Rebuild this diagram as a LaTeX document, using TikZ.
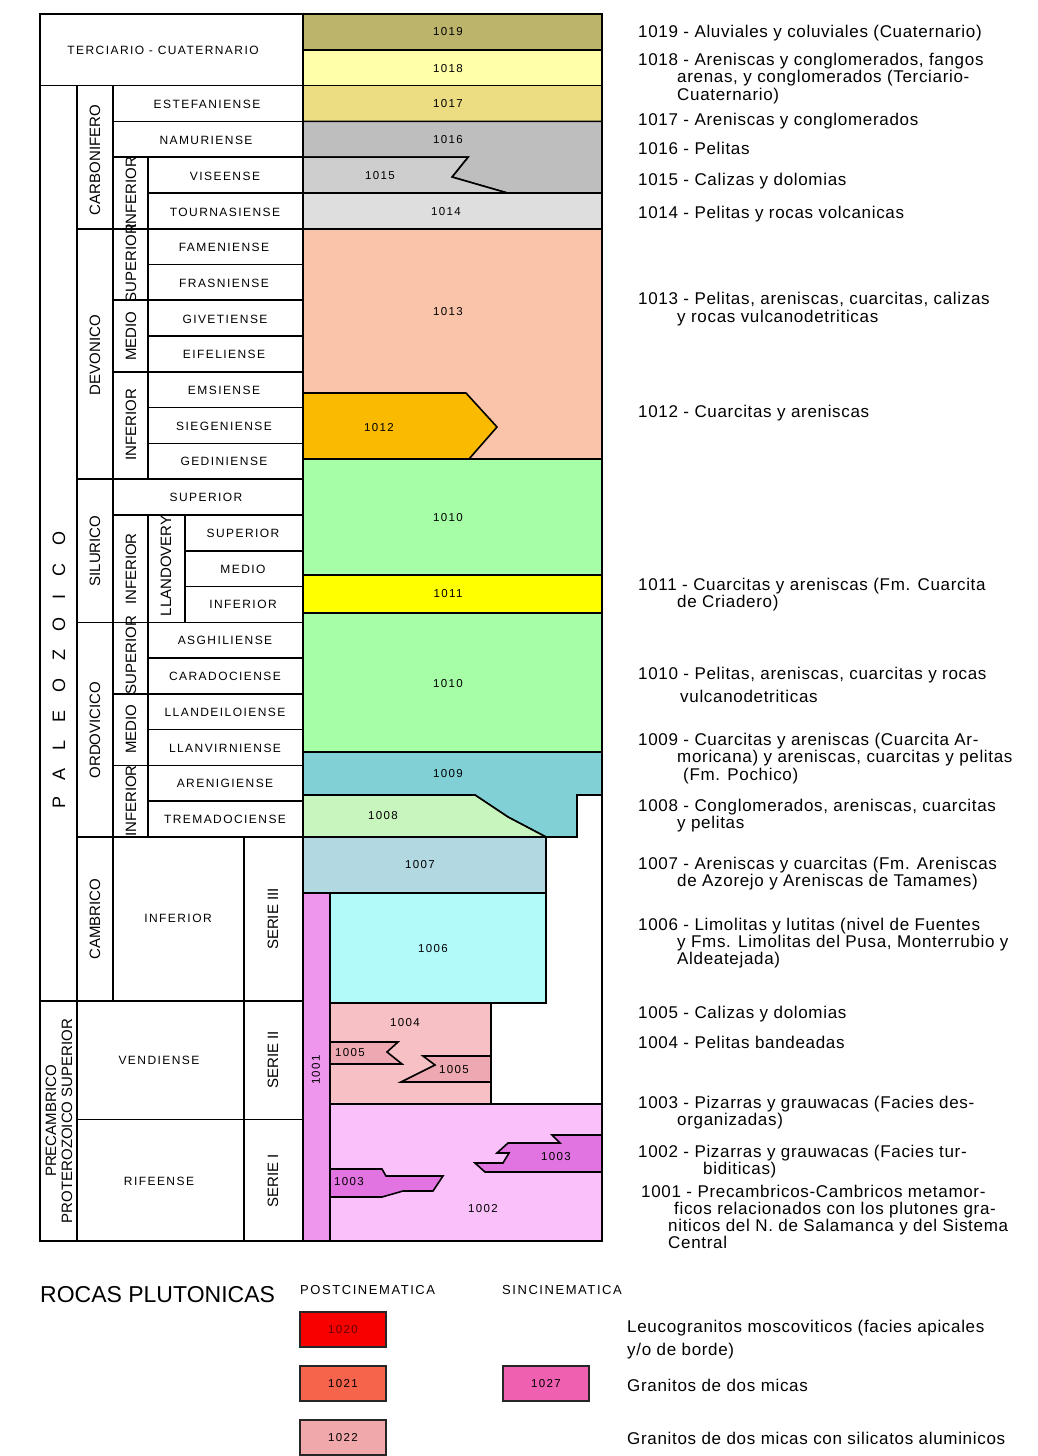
\documentclass[tikz,border=0pt]{standalone}
\usepackage{fontspec}
\setmainfont{Liberation Sans}
\newfontfamily\spacedfont[LetterSpace=12]{Liberation Sans}
\newfontfamily\widefont[LetterSpace=100]{Liberation Sans}
\newfontfamily\notefont[LetterSpace=4]{Liberation Sans}
\definecolor{c1019}{RGB}{189,180,108}
\definecolor{c1018}{RGB}{255,255,170}
\definecolor{c1017}{RGB}{236,220,130}
\definecolor{c1016}{RGB}{190,190,190}
\definecolor{c1015}{RGB}{206,206,206}
\definecolor{c1014}{RGB}{222,222,222}
\definecolor{c1013}{RGB}{250,196,170}
\definecolor{c1012}{RGB}{250,186,0}
\definecolor{c1010}{RGB}{166,255,166}
\definecolor{c1011}{RGB}{255,255,0}
\definecolor{c1009}{RGB}{128,208,214}
\definecolor{c1008}{RGB}{200,245,190}
\definecolor{c1007}{RGB}{178,216,226}
\definecolor{c1006}{RGB}{178,250,250}
\definecolor{c1005}{RGB}{238,168,178}
\definecolor{c1004}{RGB}{246,192,196}
\definecolor{c1003}{RGB}{226,116,226}
\definecolor{c1002}{RGB}{250,192,250}
\definecolor{c1001}{RGB}{238,150,238}
\definecolor{c1020}{RGB}{248,0,0}
\definecolor{c1021}{RGB}{246,100,76}
\definecolor{c1022}{RGB}{240,168,170}
\definecolor{c1027}{RGB}{240,96,176}
\begin{document}
\begin{tikzpicture}[x=1pt,y=-1pt,inner sep=0pt,minimum size=0mm,
  cell/.style={line width=1.6pt},
  stage/.style={font=\spacedfont\fontsize{12}{14}\selectfont},
  vert/.style={font=\fontsize{15}{16}\selectfont,rotate=90},
  num/.style={font=\spacedfont\fontsize{11.5}{13}\selectfont},
  note/.style={anchor=base west,font=\notefont\fontsize{17}{18}\selectfont},
  keybox/.style={line width=1.8pt,draw=black!85}]

\fill[white] (0,0) rectangle (1038,1456);
\useasboundingbox (0,0) rectangle (1038,1456);

% colour column
\filldraw[cell,fill=c1019] (303,14) rectangle (602,49.8);
\filldraw[cell,fill=c1018] (303,49.8) rectangle (602,85.6);
\filldraw[cell,fill=c1017] (303,85.6) rectangle (602,121.3);
\filldraw[cell,fill=c1016] (303,121.3) -- (602,121.3) -- (602,192.9) -- (507,192.9) -- (452,177) -- (468,157.1) -- (303,157.1) -- cycle;
\filldraw[cell,fill=c1015] (303,157.1) -- (468,157.1) -- (452,177) -- (507,192.9) -- (303,192.9) -- cycle;
\filldraw[cell,fill=c1014] (303,192.9) rectangle (602,228.7);
\filldraw[cell,fill=c1013] (303,228.7) rectangle (602,459);
\filldraw[cell,fill=c1012] (303,393) -- (466,393) -- (497,427) -- (469,459) -- (303,459) -- cycle;
\filldraw[cell,fill=c1010] (303,459) rectangle (602,575);
\filldraw[cell,fill=c1011] (303,575) rectangle (602,613);
\filldraw[cell,fill=c1010] (303,613) rectangle (602,752);
\filldraw[cell,fill=c1009] (303,752) -- (602,752) -- (602,795) -- (577,795) -- (577,837) -- (546,837) -- (508,817) -- (475,795) -- (303,795) -- cycle;
\filldraw[cell,fill=c1008] (303,795) -- (475,795) -- (508,817) -- (546,837) -- (303,837) -- cycle;
\filldraw[cell,fill=c1007] (303,837) rectangle (546,893);
\filldraw[cell,fill=c1006] (330,893) rectangle (546,1003);
\filldraw[cell,fill=c1004] (330,1003) rectangle (491,1104);
\filldraw[cell,fill=c1005] (330,1042) -- (398,1042) -- (387,1052) -- (402,1064) -- (330,1064) -- cycle;
\filldraw[cell,fill=c1005] (423,1056) -- (491,1056) -- (491,1082) -- (401,1082) -- (435,1065) -- cycle;
\filldraw[cell,fill=c1002] (330,1104) rectangle (602,1241);
\filldraw[cell,fill=c1003] (330,1169) -- (382,1169) -- (386,1176) -- (443,1176) -- (433,1191) -- (403,1191) -- (382,1197) -- (330,1197) -- cycle;
\filldraw[cell,fill=c1003] (602,1135) -- (552,1135) -- (560,1143) -- (508,1143) -- (497,1153) -- (509,1153) -- (503,1163) -- (475,1163) -- (485,1172) -- (602,1172) -- cycle;
\filldraw[cell,fill=c1001] (303,893) rectangle (330,1241);
\draw[cell] (303,14) rectangle (602,1241);

\node[num] (u1019) at (448,32) {1019};
\node[num] (u1018) at (448,69) {1018};
\node[num] (u1017) at (448,104) {1017};
\node[num] (u1016) at (448,140) {1016};
\node[num] (u1015) at (380,176) {1015};
\node[num] (u1014) at (446,212) {1014};
\node[num] (u1013) at (448,312) {1013};
\node[num] (u1012) at (379,428) {1012};
\node[num] (u1010a) at (448,518) {1010};
\node[num] (u1011) at (448,594) {1011};
\node[num] (u1010b) at (448,684) {1010};
\node[num] (u1009) at (448,774) {1009};
\node[num] (u1008) at (383,816) {1008};
\node[num] (u1007) at (420,865) {1007};
\node[num] (u1006) at (433,949) {1006};
\node[num] (u1004) at (405,1023) {1004};
\node[num] (u1005a) at (350,1053) {1005};
\node[num] (u1005b) at (454,1070) {1005};
\node[num,rotate=90] (u1001) at (316,1070) {1001};
\node[num] (u1003a) at (349,1182) {1003};
\node[num] (u1003b) at (556,1157) {1003};
\node[num] (u1002) at (483,1209) {1002};

% table
\draw[cell] (40,14) rectangle (303,85.6);
\draw[cell] (40,85.6) rectangle (77,1000.7);
\draw[cell] (77,85.6) rectangle (113,228.7);
\draw[cell] (77,228.7) rectangle (113,479.1);
\draw[cell] (77,479.1) rectangle (113,622.3);
\draw[cell] (77,622.3) rectangle (113,836.9);
\draw[cell] (77,836.9) rectangle (113,1000.7);

\draw[cell] (113,157.1) rectangle (148,228.7);
\draw[cell] (113,228.7) rectangle (148,300.2);
\draw[cell] (113,300.2) rectangle (148,371.8);
\draw[cell] (113,371.8) rectangle (148,479.1);
\draw[cell] (113,514.9) rectangle (148,622.3);
\draw[cell] (148,514.9) rectangle (185,622.3);
\draw[cell] (113,622.3) rectangle (148,693.8);
\draw[cell] (113,693.8) rectangle (148,765.4);
\draw[cell] (113,765.4) rectangle (148,836.9);

\draw[cell] (113,85.6) rectangle (303,121.3);
\draw[cell] (113,121.3) rectangle (303,157.1);
\draw[cell] (148,157.1) rectangle (303,192.9);
\draw[cell] (148,192.9) rectangle (303,228.7);
\draw[cell] (148,228.7) rectangle (303,264.5);
\draw[cell] (148,264.5) rectangle (303,300.2);
\draw[cell] (148,300.2) rectangle (303,336.0);
\draw[cell] (148,336.0) rectangle (303,371.8);
\draw[cell] (148,371.8) rectangle (303,407.6);
\draw[cell] (148,407.6) rectangle (303,443.4);
\draw[cell] (148,443.4) rectangle (303,479.1);
\draw[cell] (113,479.1) rectangle (303,514.9);
\draw[cell] (185,514.9) rectangle (303,550.7);
\draw[cell] (185,550.7) rectangle (303,586.5);
\draw[cell] (185,586.5) rectangle (303,622.3);
\draw[cell] (148,622.3) rectangle (303,658.0);
\draw[cell] (148,658.0) rectangle (303,693.8);
\draw[cell] (148,693.8) rectangle (303,729.6);
\draw[cell] (148,729.6) rectangle (303,765.4);
\draw[cell] (148,765.4) rectangle (303,801.2);
\draw[cell] (148,801.2) rectangle (303,836.9);

\draw[cell] (113,836.9) rectangle (244,1000.7);
\draw[cell] (244,836.9) rectangle (303,1000.7);
\draw[cell] (40,1000.7) rectangle (77,1240.8);
\draw[cell] (77,1000.7) rectangle (244,1119.5);
\draw[cell] (77,1119.5) rectangle (244,1240.8);
\draw[cell] (244,1000.7) rectangle (303,1119.5);
\draw[cell] (244,1119.5) rectangle (303,1240.8);

\node[stage] (tercuat) at (163,50) {TERCIARIO - CUATERNARIO};
\node[stage] (estef) at (207,104) {ESTEFANIENSE};
\node[stage] (namur) at (206,140) {NAMURIENSE};
\node[stage] (visee) at (225,176) {VISEENSE};
\node[stage] (tourn) at (225,212) {TOURNASIENSE};
\node[stage] (famen) at (224,247) {FAMENIENSE};
\node[stage] (frasn) at (224,283) {FRASNIENSE};
\node[stage] (givet) at (225,319) {GIVETIENSE};
\node[stage] (eifel) at (224,354) {EIFELIENSE};
\node[stage] (emsie) at (224,390) {EMSIENSE};
\node[stage] (siege) at (224,426) {SIEGENIENSE};
\node[stage] (gedin) at (224,461) {GEDINIENSE};
\node[stage] (silsup) at (206,497) {SUPERIOR};
\node[stage] (llsup) at (243,533) {SUPERIOR};
\node[stage] (llmed) at (243,569) {MEDIO};
\node[stage] (llinf) at (243,604) {INFERIOR};
\node[stage] (asghi) at (225,640) {ASGHILIENSE};
\node[stage] (carad) at (225,676) {CARADOCIENSE};
\node[stage] (lland) at (225,712) {LLANDEILOIENSE};
\node[stage] (llanv) at (225,748) {LLANVIRNIENSE};
\node[stage] (areni) at (225,783) {ARENIGIENSE};
\node[stage] (trema) at (225,819) {TREMADOCIENSE};
\node[stage] (caminf) at (178,918) {INFERIOR};
\node[stage] (vendi) at (159,1060) {VENDIENSE};
\node[stage] (rifee) at (159,1181) {RIFEENSE};

\node[vert] (carbon) at (95,160) {CARBONIFERO};
\node[vert] (carinf) at (131,193) {INFERIOR};
\node[vert] (devon) at (95,355) {DEVONICO};
\node[vert] (devsup) at (131,263) {SUPERIOR};
\node[vert] (devmed) at (131,336) {MEDIO};
\node[vert] (devinf) at (131,425) {INFERIOR};
\node[vert] (silur) at (95,551) {SILURICO};
\node[vert] (silinf) at (131,569) {INFERIOR};
\node[vert] (llando) at (166,566) {LLANDOVERY};
\node[vert] (ordov) at (95,730) {ORDOVICICO};
\node[vert] (ordsup) at (131,655) {SUPERIOR};
\node[vert] (ordmed) at (131,729) {MEDIO};
\node[vert] (ordinf) at (131,801) {INFERIOR};
\node[vert] (cambr) at (95,919) {CAMBRICO};
\node[vert,align=center] (precam) at (59,1121) {PRECAMBRICO\\PROTEROZOICO SUPERIOR};
\node[vert] (serie3) at (273,919) {SERIE III};
\node[vert] (serie2) at (273,1060) {SERIE II};
\node[vert] (serie1) at (273,1181) {SERIE I};
\node[rotate=90,font=\widefont\fontsize{18}{20}\selectfont] (paleo) at (59,670) {PALEOZOICO};

% notes
\node[note] (n1019) at (638,37) {1019 - Aluviales y coluviales (Cuaternario)};
\node[note] (n1018a) at (638,65) {1018 - Areniscas y conglomerados, fangos};
\node[note] (n1018b) at (677,82) {arenas, y conglomerados (Terciario-};
\node[note] (n1018c) at (677,100) {Cuaternario)};
\node[note] (n1017) at (638,125) {1017 - Areniscas y conglomerados};
\node[note] (n1016) at (638,154) {1016 - Pelitas};
\node[note] (n1015) at (638,185) {1015 - Calizas y dolomias};
\node[note] (n1014) at (638,218) {1014 - Pelitas y rocas volcanicas};
\node[note] (n1013a) at (638,304) {1013 - Pelitas, areniscas, cuarcitas, calizas};
\node[note] (n1013b) at (677,322) {y rocas vulcanodetriticas};
\node[note] (n1012) at (638,417) {1012 - Cuarcitas y areniscas};
\node[note] (n1011a) at (638,590) {1011 - Cuarcitas y areniscas (Fm. Cuarcita};
\node[note] (n1011b) at (677,607) {de Criadero)};
\node[note] (n1010a) at (638,679) {1010 - Pelitas, areniscas, cuarcitas y rocas};
\node[note] (n1010b) at (680,702) {vulcanodetriticas};
\node[note] (n1009a) at (638,745) {1009 - Cuarcitas y areniscas (Cuarcita Ar-};
\node[note] (n1009b) at (677,762) {moricana) y areniscas, cuarcitas y pelitas};
\node[note] (n1009c) at (683,780) {(Fm. Pochico)};
\node[note] (n1008a) at (638,811) {1008 - Conglomerados, areniscas, cuarcitas};
\node[note] (n1008b) at (677,828) {y pelitas};
\node[note] (n1007a) at (638,869) {1007 - Areniscas y cuarcitas (Fm. Areniscas};
\node[note] (n1007b) at (677,886) {de Azorejo y Areniscas de Tamames)};
\node[note] (n1006a) at (638,930) {1006 - Limolitas y lutitas (nivel de Fuentes};
\node[note] (n1006b) at (677,947) {y Fms. Limolitas del Pusa, Monterrubio y};
\node[note] (n1006c) at (677,964) {Aldeatejada)};
\node[note] (n1005) at (638,1018) {1005 - Calizas y dolomias};
\node[note] (n1004) at (638,1048) {1004 - Pelitas bandeadas};
\node[note] (n1003a) at (638,1108) {1003 - Pizarras y grauwacas (Facies des-};
\node[note] (n1003b) at (677,1125) {organizadas)};
\node[note] (n1002a) at (638,1157) {1002 - Pizarras y grauwacas (Facies tur-};
\node[note] (n1002b) at (703,1174) {biditicas)};
\node[note] (n1001a) at (641,1197) {1001 - Precambricos-Cambricos metamor-};
\node[note] (n1001b) at (674,1214) {ficos relacionados con los plutones gra-};
\node[note] (n1001c) at (668,1231) {niticos del N. de Salamanca y del Sistema};
\node[note] (n1001d) at (668,1248) {Central};

% plutonic rocks
\node[anchor=west,font=\fontsize{23}{25}\selectfont] (rocas) at (40,1295) {ROCAS PLUTONICAS};
\node[anchor=west,font=\spacedfont\fontsize{13}{15}\selectfont] (postc) at (300,1290) {POSTCINEMATICA};
\node[anchor=west,font=\spacedfont\fontsize{13}{15}\selectfont] (sinc) at (502,1290) {SINCINEMATICA};
\filldraw[keybox,fill=c1020] (300,1312) rectangle (386,1347);
\filldraw[keybox,fill=c1021] (300,1366) rectangle (386,1401);
\filldraw[keybox,fill=c1022] (300,1420) rectangle (386,1455);
\filldraw[keybox,fill=c1027] (503,1366) rectangle (589,1401);
\node[num,text=black!60!red] (k1020) at (343,1330) {1020};
\node[num] (k1021) at (343,1384) {1021};
\node[num] (k1022) at (343,1438) {1022};
\node[num] (k1027) at (546,1384) {1027};
\node[note] (leuco1) at (627,1332) {Leucogranitos moscoviticos (facies apicales};
\node[note] (leuco2) at (627,1355) {y/o de borde)};
\node[note] (gran1) at (627,1391) {Granitos de dos micas};
\node[note] (gran2) at (627,1444) {Granitos de dos micas con silicatos aluminicos};

\end{tikzpicture}
\end{document}
